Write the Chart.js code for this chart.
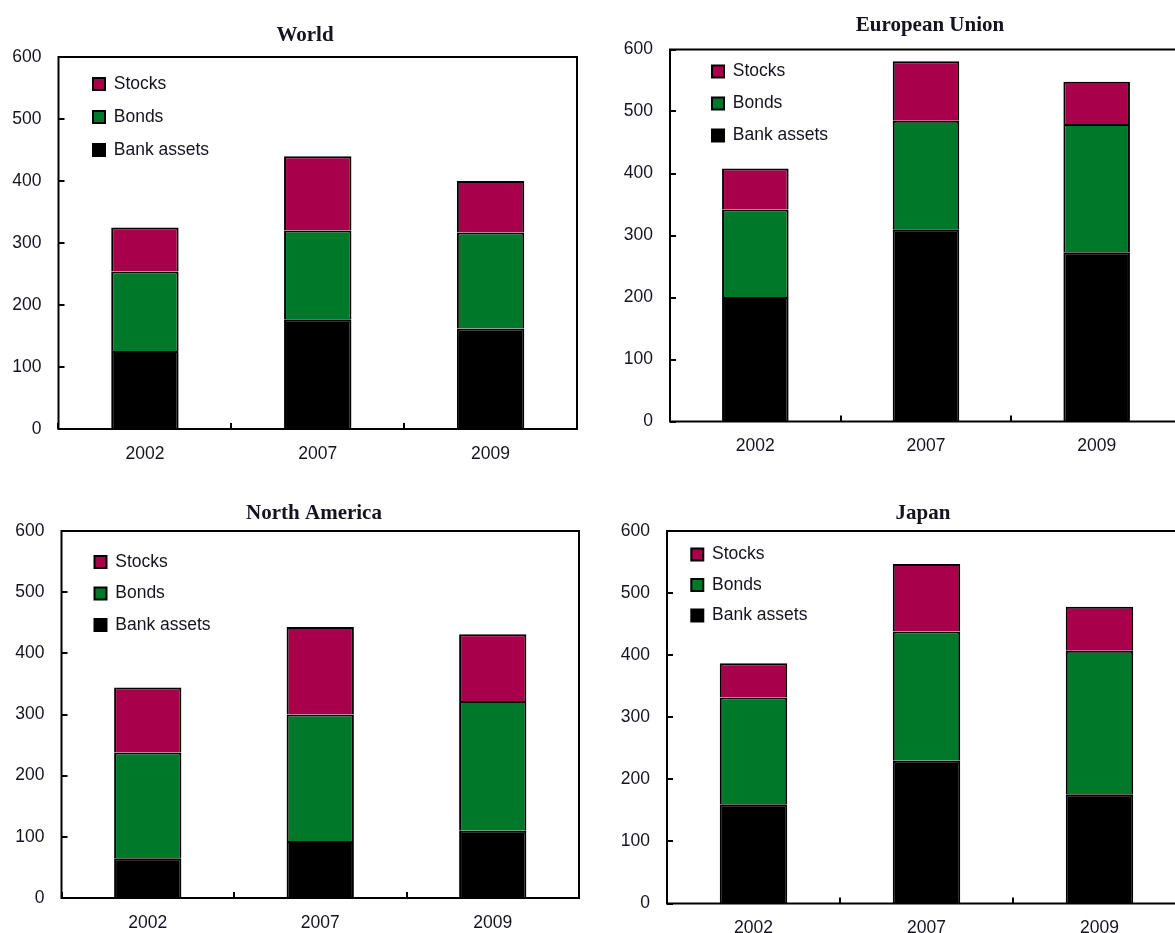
<!DOCTYPE html>
<html>
<head>
<meta charset="utf-8">
<script src="https://cdn.jsdelivr.net/npm/chart.js@4.4.1/dist/chart.umd.min.js"></script>
<style>
html, body { margin: 0; padding: 0; background: #fff; overflow: hidden; width: 1175px; height: 933px; position: relative; }
canvas { position: absolute; }
</style>
</head>
<body>
<canvas id="cWorld" width="595" height="470" style="left:0px;top:0px"></canvas>
<canvas id="cEU" width="600" height="470" style="left:595px;top:0px"></canvas>
<canvas id="cNA" width="595" height="463" style="left:0px;top:470px"></canvas>
<canvas id="cJapan" width="600" height="463" style="left:595px;top:470px"></canvas>
<script>
// ---------- DATA ----------
const categories = ['2002', '2007', '2009'];
const seriesNames = ['Bank assets', 'Bonds', 'Stocks'];
const yTicks = [0, 100, 200, 300, 400, 500, 600];

const panelTitles = ['World', 'European Union', 'North America', 'Japan'];

const worldBank = [126, 177, 162];
const worldBonds = [128, 143, 155];
const worldStocks = [71, 120, 83];

const euBank = [201, 310, 273];
const euBonds = [141, 175, 207];
const euStocks = [66, 96, 68];

const naBank = [65, 93, 110];
const naBonds = [173, 207, 212];
const naStocks = [106, 143, 109];

const japanBank = [160, 230, 176];
const japanBonds = [172, 208, 231];
const japanStocks = [55, 109, 71];

// ---------- STYLE / LAYOUT ----------
const seriesColors = ['#000000', '#00782A', '#A8004A'];
const SANS = '"Liberation Sans", Arial, Helvetica, sans-serif';
const SERIF = '"Liberation Serif", "Times New Roman", Times, serif';
const TEXT = '#141420';
const FS = 17.5;
const TICK_LEN = 6;

const layouts = {
  cWorld: { yW: 58.5, xH: 41,   padR: 18, titleX: 305, titleTop: 22.9, titleBottom: 8.9,  lgDx: 34.5, lgDy: 21,   lgPad: 15.5 },
  cEU:    { yW: 75,   xH: 48.5, padR: 13, titleX: 335, titleTop: 13.2, titleBottom: 11.1, lgDx: 42,   lgDy: 16,   lgPad: 14.5 },
  cNA:    { yW: 61.5, xH: 35,   padR: 16, titleX: 314, titleTop: 30.9, titleBottom: 4.9,  lgDx: 33,   lgDy: 25,   lgPad: 14 },
  cJapan: { yW: 72,   xH: 29.5, padR: 9,  titleX: 328, titleTop: 31.1, titleBottom: 4.7,  lgDx: 24.3, lgDy: 17.5, lgPad: 13 }
};

const BOX = 12;

const framePlugin = {
  id: 'frame',
  afterLayout(chart, args, opts) {
    const ca = chart.chartArea;
    const t = chart.titleBlock;
    if (t) {
      const w = t.right - t.left;
      t.left = opts.titleX - w / 2;
      t.right = opts.titleX + w / 2;
    }
    const lg = chart.legend;
    if (lg) {
      const pad = opts.lgPad;
      lg.left = ca.left + opts.lgDx - pad;
      lg.right = lg.left + lg.width;
      lg.top = ca.top + opts.lgDy - pad - (FS - BOX) / 2;
      lg.bottom = lg.top + (ca.bottom - ca.top);
    }
  },
  afterDatasetsDraw(chart) {
    const { ctx, chartArea: ca } = chart;
    const ys = chart.scales.y;
    ctx.save();
    ctx.strokeStyle = '#000';
    ctx.lineWidth = 2;
    // inward tick marks on the value axis, placed by the y scale
    ctx.beginPath();
    ys.ticks.forEach((tk) => {
      const py = Math.round(ys.getPixelForValue(tk.value));
      ctx.moveTo(ca.left, py);
      ctx.lineTo(ca.left + TICK_LEN, py);
    });
    ctx.stroke();
    ctx.strokeRect(ca.left, ca.top, ca.right - ca.left, ca.bottom - ca.top);
    ctx.restore();
  }
};

function makeChart(id, title, bank, bonds, stocks) {
  const L = layouts[id];
  const values = [bank, bonds, stocks];
  const datasets = seriesNames.map((name, i) => ({
    label: name,
    data: values[i],
    backgroundColor: seriesColors[i],
    borderColor: '#000',
    borderWidth: 2,
    barPercentage: 0.39,
    categoryPercentage: 1.0
  }));
  return new Chart(document.getElementById(id), {
    type: 'bar',
    data: { labels: categories, datasets },
    plugins: [framePlugin],
    options: {
      responsive: false,
      animation: false,
      devicePixelRatio: 1,
      layout: { padding: { left: 0, top: 0, right: L.padR, bottom: 0 } },
      plugins: {
        frame: { titleX: L.titleX, lgDx: L.lgDx, lgDy: L.lgDy, lgPad: L.lgPad },
        tooltip: { enabled: false },
        title: {
          display: true,
          text: title,
          color: TEXT,
          font: { family: SERIF, size: 21, weight: 'bold', lineHeight: 1.2 },
          padding: { top: L.titleTop, bottom: L.titleBottom }
        },
        legend: {
          display: true,
          position: 'chartArea',
          align: 'start',
          reverse: true,
          labels: {
            boxWidth: BOX,
            boxHeight: BOX,
            padding: L.lgPad,
            color: TEXT,
            font: { family: SANS, size: FS }
          }
        }
      },
      scales: {
        x: {
          stacked: true,
          offset: true,
          border: { display: false },
          grid: { display: true, offset: true, drawOnChartArea: false, drawTicks: true, tickLength: -TICK_LEN, color: '#000', lineWidth: 2 },
          ticks: { color: TEXT, font: { family: SANS, size: FS }, padding: 20.5, maxRotation: 0, autoSkip: false },
          afterFit: (s) => { s.height = L.xH; s.paddingLeft = 0; s.paddingRight = 0; }
        },
        y: {
          stacked: true,
          min: yTicks[0],
          max: yTicks[yTicks.length - 1],
          border: { display: false },
          grid: { display: false, drawOnChartArea: false, drawTicks: false },
          ticks: { stepSize: yTicks[1] - yTicks[0], color: TEXT, font: { family: SANS, size: FS }, padding: 17 },
          afterFit: (s) => { s.width = L.yW; s.paddingTop = 0; s.paddingBottom = 0; }
        }
      }
    }
  });
}

makeChart('cWorld', panelTitles[0], worldBank, worldBonds, worldStocks);
makeChart('cEU', panelTitles[1], euBank, euBonds, euStocks);
makeChart('cNA', panelTitles[2], naBank, naBonds, naStocks);
makeChart('cJapan', panelTitles[3], japanBank, japanBonds, japanStocks);
</script>
</body>
</html>
